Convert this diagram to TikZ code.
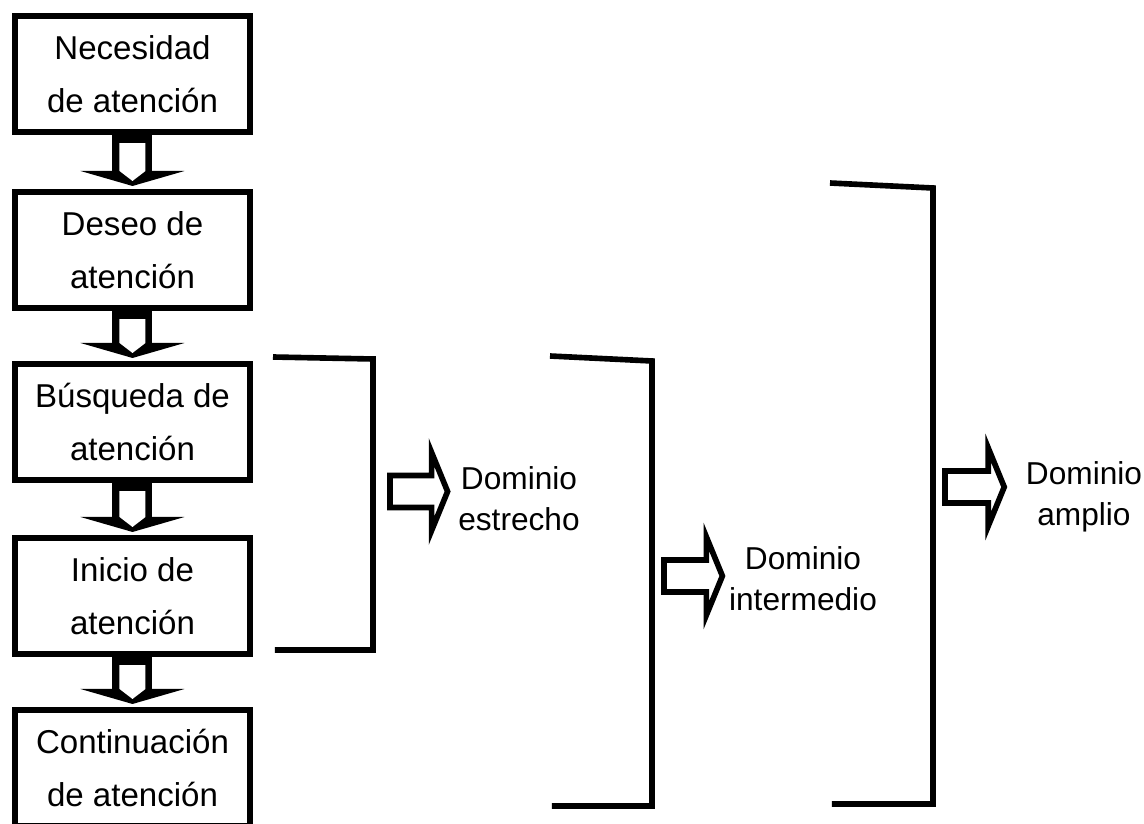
\documentclass[tikz,border=0pt]{standalone}
\usepackage{fontspec}
\setmainfont{Liberation Sans}
\usepackage{tikz}
\usetikzlibrary{calc,positioning}

\tikzset{
  etapa/.style={draw,line width=1.7pt,minimum width=2.35cm,minimum height=1.16cm,
    align=center,inner sep=0pt,font=\fontsize{9.4}{15}\selectfont},
  dominio/.style={align=center,inner sep=0pt,font=\fontsize{9}{11.7}\selectfont},
  llave/.style={line width=1.6pt,line join=miter},
  flechagruesa/.style={line width=1.6pt,line join=miter}
}

% flecha gruesa hacia abajo entre dos etapas
\newcommand{\bajada}[2]{%
  \fill ($(#2.north)+(-52,-18)$) -- ($(#2.north)+(52,-18)$) -- ($(#2.north)+(0,-3)$) -- cycle;
  \fill ($(#1.south)+(-20,0)$) rectangle ($(#2.north)+(20,-18)$);
  \fill[white] ($(#1.south)+(-13,8)$) -- ($(#2.north)+(-13,-18)$) -- ($(#2.north)+(0,-8)$)
    -- ($(#2.north)+(13,-18)$) -- ($(#1.south)+(13,8)$) -- cycle;}

% flecha gruesa hacia la derecha: cola, etiqueta, hueco
\newcommand{\derecha}[3]{%
  \coordinate (punta) at ($(#1 -| #2.west)+(-#3,0)$);
  \draw[flechagruesa] ($(#1)+(0,-16)$) -- ($(punta)+(-16,-16)$)
    -- ($(punta)+(-16,-39)$) -- (punta) -- ($(punta)+(-16,39)$)
    -- ($(punta)+(-16,16)$) -- ($(#1)+(0,16)$) -- cycle;}

\begin{document}
\begin{tikzpicture}[x=0.01cm,y=-0.01cm]
\useasboundingbox (0,0) rectangle (1144,824);

% etapas
\node[etapa] (necesidad) at (132.5,74) {Necesidad\\de atención};
\node[etapa] (deseo) at (132.5,250) {Deseo de\\atención};
\node[etapa] (busqueda) at (132.5,422) {Búsqueda de\\atención};
\node[etapa] (inicio) at (132.5,596) {Inicio de\\atención};
\node[etapa] (continuacion) at (132.5,768) {Continuación\\de atención};

\bajada{necesidad}{deseo}
\bajada{deseo}{busqueda}
\bajada{busqueda}{inicio}
\bajada{inicio}{continuacion}

% llaves
\draw[llave] (273,357) -- (373,359) -- (373,650) -- (275,650);
\draw[llave] (550,356) -- (652,361) -- (652,806) -- (552,806);
\draw[llave] (830,183) -- (933,188) -- (933,804) -- (832,804);

% dominios
\node[dominio] (estrecho) at (519,499) {Dominio\\estrecho};
\node[dominio] (intermedio) at (803,579) {Dominio\\intermedio};
\node[dominio] (amplio) at (1084,497) {Dominio\\amplio};

\coordinate (colaA) at (390,491.5);
\coordinate (colaB) at (664,576);
\coordinate (colaC) at (945,487);

\derecha{colaA}{estrecho}{10}
\derecha{colaB}{intermedio}{6}
\derecha{colaC}{amplio}{21}
\end{tikzpicture}
\end{document}
